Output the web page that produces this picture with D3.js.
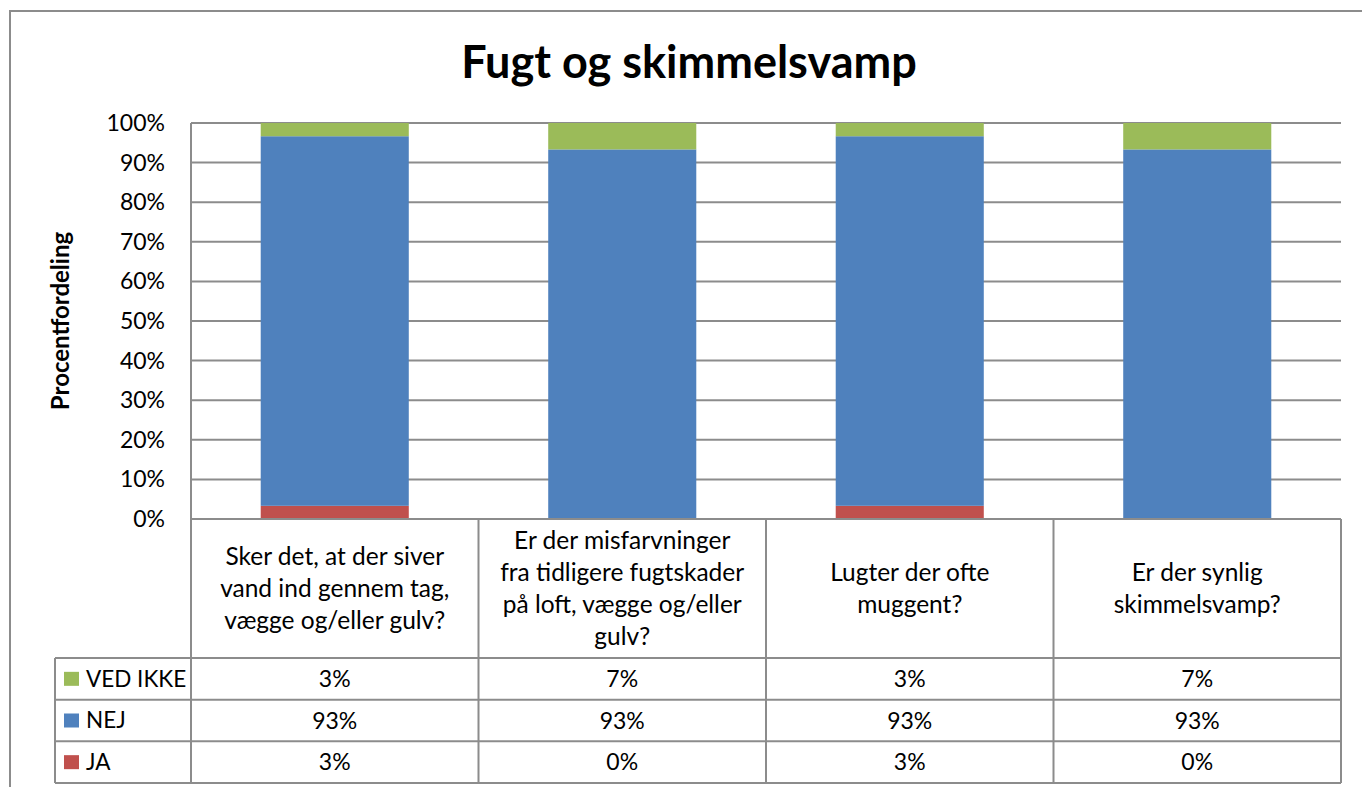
<!DOCTYPE html>
<html>
<head>
<meta charset="utf-8">
<script src="https://cdn.jsdelivr.net/npm/d3@7"></script>
<style>
  html, body { margin: 0; padding: 0; background: #fff; }
  svg { display: block; font-family: Lato, "Open Sans", sans-serif; }
</style>
</head>
<body>
<svg width="1362" height="787"></svg>
<script>
"use strict";

// Categories (line breaks as wrapped in the data table header)
const categories = [
    "Sker det, at der siver\nvand ind gennem tag,\nvægge og/eller gulv?",
    "Er der misfarvninger\nfra tidligere fugtskader\npå loft, vægge og/eller\ngulv?",
    "Lugter der ofte\nmuggent?",
    "Er der synlig\nskimmelsvamp?"
];
// Percent of answers per category (n = 30, so 1 answer = 3.33%)
const ja = [3.33, 0, 3.33, 0];
const nej = [93.33, 93.33, 93.33, 93.33];
const vedIkke = [3.33, 6.67, 3.33, 6.67];

const seriesNames = ["JA", "NEJ", "VED IKKE"];  // bottom to top
const seriesColors = ["#C0504D", "#4F81BD", "#9BBB59"];
const yTicks = [0, 10, 20, 30, 40, 50, 60, 70, 80, 90, 100];

const title = "Fugt og skimmelsvamp";
const yTitle = "Procentfordeling";

const svg = d3.select("svg");
const gridColor = "#8C8C8C";

const plot = {left: 191, right: 1341, top: 123, bottom: 519};
const table = {legendLeft: 55, headerBottom: 658, bottom: 783};

const rows = categories.map((c, i) => ({
    cat: c, "JA": ja[i], "NEJ": nej[i], "VED IKKE": vedIkke[i]
}));

const x = d3.scaleBand()
    .domain(categories)
    .range([plot.left, plot.right])
    .paddingInner(0.485)
    .paddingOuter(0.2425);

const col = d3.scaleBand()
    .domain(categories)
    .range([plot.left, plot.right])
    .padding(0);

const y = d3.scaleLinear()
    .domain([0, 100])
    .range([plot.bottom, plot.top]);

const color = d3.scaleOrdinal().domain(seriesNames).range(seriesColors);

// outer frame
svg.append("rect")
    .attr("x", 10).attr("y", 11)
    .attr("width", 1400).attr("height", 820)
    .attr("fill", "none")
    .attr("stroke", gridColor)
    .attr("stroke-width", 2);

// title
svg.append("text")
    .attr("x", 689).attr("y", 78)
    .attr("text-anchor", "middle")
    .attr("font-weight", "bold")
    .attr("font-size", 45)
    .attr("fill", "#000")
    .text(title);

// gridlines
svg.append("g")
    .selectAll("line")
    .data(yTicks)
    .join("line")
    .attr("x1", plot.left).attr("x2", plot.right)
    .attr("y1", d => y(d)).attr("y2", d => y(d))
    .attr("stroke", gridColor)
    .attr("stroke-width", 2);

// tick labels
svg.append("g")
    .selectAll("text")
    .data(yTicks)
    .join("text")
    .attr("x", 165)
    .attr("y", d => y(d))
    .attr("dy", "0.35em")
    .attr("text-anchor", "end")
    .attr("font-size", 23)
    .attr("fill", "#000")
    .text(d => d + "%");

// y title
svg.append("text")
    .attr("transform", `translate(69,${(plot.top + plot.bottom) / 2}) rotate(-90)`)
    .attr("text-anchor", "middle")
    .attr("font-weight", "bold")
    .attr("font-size", 24)
    .attr("fill", "#000")
    .text(yTitle);

// stacked bars
const stacked = d3.stack().keys(seriesNames)(rows);

svg.append("g")
    .selectAll("g")
    .data(stacked)
    .join("g")
    .attr("fill", d => color(d.key))
    .selectAll("rect")
    .data(d => d)
    .join("rect")
    .attr("x", d => x(d.data.cat))
    .attr("width", x.bandwidth())
    .attr("y", d => y(d[1]))
    .attr("height", d => y(d[0]) - y(d[1]));

// data table
const tableRows = seriesNames.slice().reverse();
const rowY = d3.scaleBand()
    .domain(tableRows)
    .range([table.headerBottom, table.bottom]);

const tbl = svg.append("g")
    .attr("stroke", gridColor)
    .attr("stroke-width", 2);

// horizontal lines
tbl.append("line")
    .attr("x1", plot.left).attr("x2", plot.right)
    .attr("y1", plot.bottom).attr("y2", plot.bottom);
tbl.selectAll("line.h")
    .data(tableRows.map(r => rowY(r)).concat([table.bottom]))
    .join("line")
    .attr("class", "h")
    .attr("x1", table.legendLeft).attr("x2", plot.right)
    .attr("y1", d => d).attr("y2", d => d);

// vertical lines
tbl.append("line")
    .attr("x1", plot.left).attr("x2", plot.left)
    .attr("y1", plot.top).attr("y2", table.bottom);
tbl.append("line")
    .attr("x1", table.legendLeft).attr("x2", table.legendLeft)
    .attr("y1", table.headerBottom).attr("y2", table.bottom);
tbl.selectAll("line.v")
    .data(categories)
    .join("line")
    .attr("class", "v")
    .attr("x1", d => col(d) + col.bandwidth()).attr("x2", d => col(d) + col.bandwidth())
    .attr("y1", plot.bottom).attr("y2", table.bottom);

// header (category) text
const lineH = 32;
svg.append("g")
    .selectAll("text")
    .data(categories)
    .join("text")
    .attr("text-anchor", "middle")
    .attr("font-size", 24.5)
    .attr("fill", "#000")
    .each(function(d) {
        const lines = d.split("\n");
        const cy = (plot.bottom + table.headerBottom) / 2;
        const first = cy - (lines.length - 1) * lineH / 2;
        d3.select(this).selectAll("tspan")
            .data(lines)
            .join("tspan")
            .attr("x", col(d) + col.bandwidth() / 2)
            .attr("y", (l, i) => first + i * lineH)
            .attr("dy", "0.33em")
            .text(l => l);
    });

// legend keys and row labels
const leg = svg.append("g")
    .selectAll("g")
    .data(tableRows)
    .join("g")
    .attr("transform", d => `translate(0,${rowY(d) + rowY.bandwidth() / 2})`);
leg.append("rect")
    .attr("x", 64).attr("y", -7)
    .attr("width", 15).attr("height", 14)
    .attr("fill", d => color(d));
leg.append("text")
    .attr("x", 86)
    .attr("dy", "0.35em")
    .attr("font-size", 22.5)
    .attr("fill", "#000")
    .text(d => d);

// cell values
const fmt = v => Math.round(v) + "%";
svg.append("g")
    .selectAll("g")
    .data(tableRows)
    .join("g")
    .selectAll("text")
    .data(key => rows.map(r => ({key, cat: r.cat, v: r[key]})))
    .join("text")
    .attr("x", d => col(d.cat) + col.bandwidth() / 2)
    .attr("y", d => rowY(d.key) + rowY.bandwidth() / 2)
    .attr("dy", "0.35em")
    .attr("text-anchor", "middle")
    .attr("font-size", 23)
    .attr("fill", "#000")
    .text(d => fmt(d.v));
</script>
</body>
</html>
